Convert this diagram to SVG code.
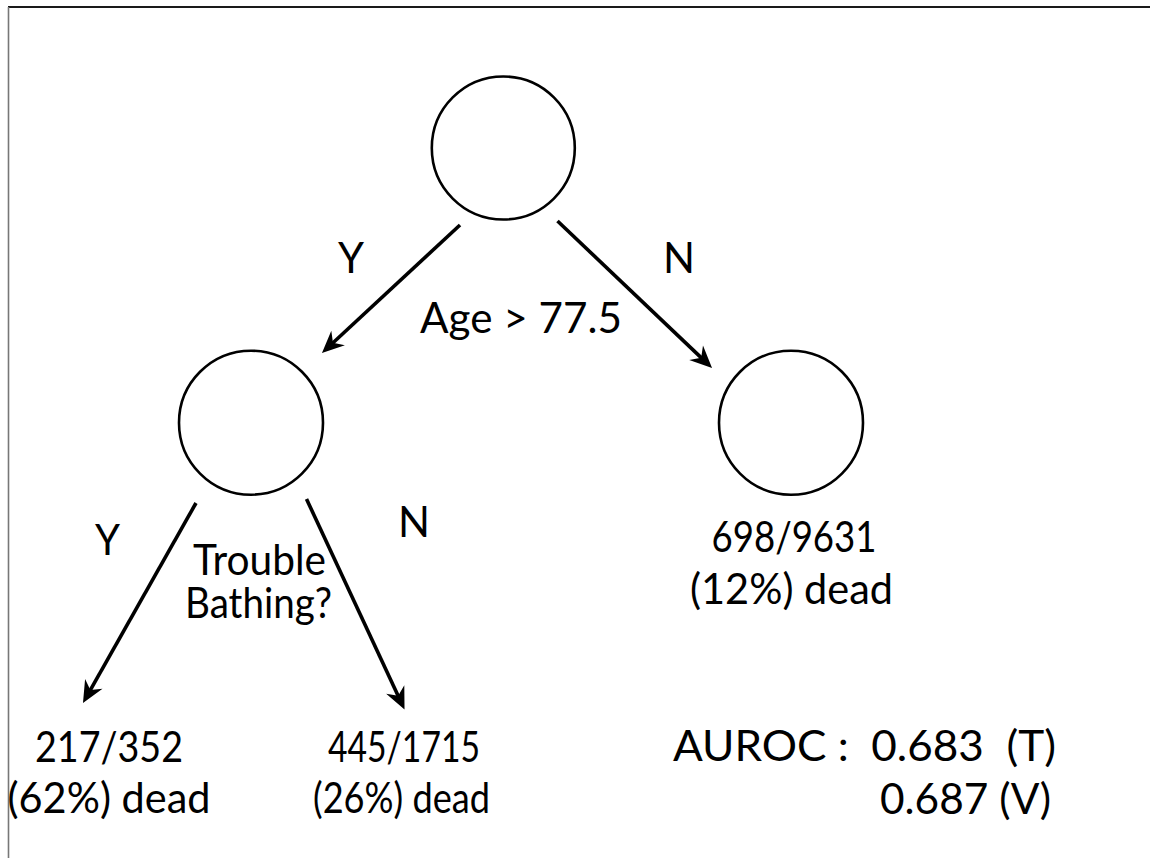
<svg xmlns="http://www.w3.org/2000/svg" width="1150" height="858" viewBox="0 0 1150 858">
<style>
.node{fill:none;stroke:#000;stroke-width:2.6}
.edge{stroke:#000;stroke-width:3.6;fill:none}
.t{font-family:"Lato","Open Sans","Liberation Sans",sans-serif;font-size:43px;fill:#000}
</style>
<defs>
<marker id="ah" markerUnits="userSpaceOnUse" viewBox="-12 -12 30 24" markerWidth="30" markerHeight="24" refX="0" refY="0" orient="auto" overflow="visible">
<path d="M10 0 L-12 -10 L-5 0 L-12 10 Z" fill="#000"/>
</marker>
</defs>
<rect width="1150" height="858" fill="#fff"/>
<g id="frame">
<line x1="8" y1="7" x2="1150" y2="7" stroke="#1a1a1a" stroke-width="2"/>
<line x1="8.5" y1="7" x2="8.5" y2="858" stroke="#777" stroke-width="1.6"/>
</g>
<g id="connectors">
<line class="edge" x1="460" y1="225" x2="329.3" y2="346.2" marker-end="url(#ah)"/>
<line class="edge" x1="557.5" y1="221" x2="704.8" y2="361.1" marker-end="url(#ah)"/>
<line class="edge" x1="196" y1="503" x2="87.9" y2="694.3" marker-end="url(#ah)"/>
<line class="edge" x1="306.5" y1="499" x2="400.3" y2="700.4" marker-end="url(#ah)"/>
</g>
<g id="root">
<circle class="node" cx="503.3" cy="148" r="71.5"/>
<text class="t" x="420" y="333" textLength="202" lengthAdjust="spacingAndGlyphs">Age &gt; 77.5</text>
</g>
<g id="labels-root">
<text class="t" x="338" y="273" textLength="26" lengthAdjust="spacingAndGlyphs">Y</text>
<text class="t" x="663" y="273" textLength="32" lengthAdjust="spacingAndGlyphs">N</text>
</g>
<g id="left">
<circle class="node" cx="251" cy="422.7" r="72"/>
<text class="t" x="193" y="575" textLength="133" lengthAdjust="spacingAndGlyphs">Trouble</text>
<text class="t" x="185" y="618" textLength="147" lengthAdjust="spacingAndGlyphs">Bathing?</text>
</g>
<g id="labels-left">
<text class="t" x="95" y="555" textLength="25" lengthAdjust="spacingAndGlyphs">Y</text>
<text class="t" x="398" y="537" textLength="32" lengthAdjust="spacingAndGlyphs">N</text>
</g>
<g id="right">
<circle class="node" cx="791" cy="422.7" r="72"/>
<text class="t" x="711.5" y="552" textLength="165" lengthAdjust="spacingAndGlyphs">698/9631</text>
<text class="t" x="690" y="603.5" textLength="203" lengthAdjust="spacingAndGlyphs">(12%) dead</text>
</g>
<g id="leaf-yes">
<text class="t" x="35" y="762" textLength="148" lengthAdjust="spacingAndGlyphs">217/352</text>
<text class="t" x="7.5" y="813" textLength="203" lengthAdjust="spacingAndGlyphs">(62%) dead</text>
</g>
<g id="leaf-no">
<text class="t" x="328" y="762" textLength="152" lengthAdjust="spacingAndGlyphs">445/1715</text>
<text class="t" x="313" y="813" textLength="177" lengthAdjust="spacingAndGlyphs">(26%) dead</text>
</g>
<g id="auroc">
<text class="t" x="673" y="761" xml:space="preserve" textLength="383" lengthAdjust="spacingAndGlyphs">AUROC :  0.683  (T)</text>
<text class="t" x="880" y="813.5" xml:space="preserve" textLength="171" lengthAdjust="spacingAndGlyphs">0.687 (V)</text>
</g>
</svg>
